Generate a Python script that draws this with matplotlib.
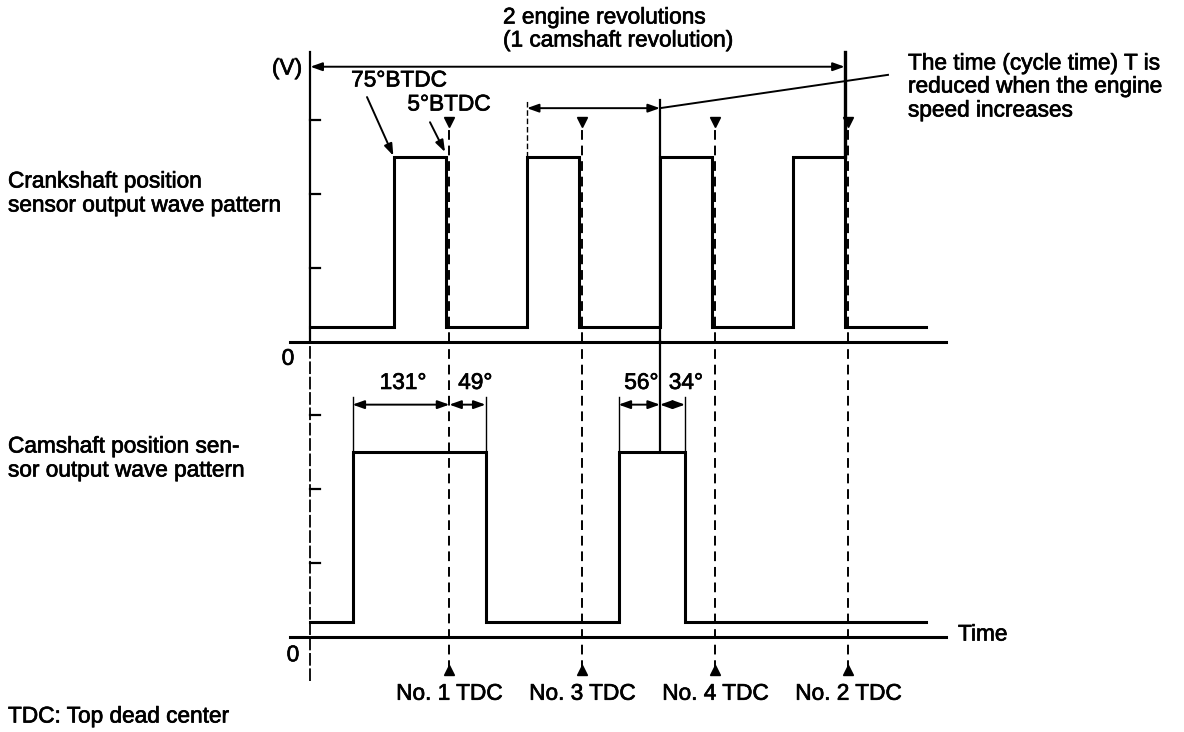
import numpy as np
import matplotlib.pyplot as plt
import matplotlib.patheffects as pe

plt.rcParams['font.family'] = ['Liberation Sans', 'DejaVu Sans']

# crank angle (deg) of each TDC
tdc_names = ['No. 1 TDC', 'No. 3 TDC', 'No. 4 TDC', 'No. 2 TDC']
tdc_deg = [180, 360, 540, 720]
# crankshaft position sensor pulses (rise 75° BTDC, fall 5° BTDC)
crank_rise = [105, 285, 465, 645]
crank_fall = [175, 355, 535, 715]
# camshaft position sensor pulses
cam_rise = [49, 409]
cam_fall = [229, 499]
cam_split = [180, 465]
cam_labels = [('131°', '49°'), ('56°', '34°')]
# signal levels (arbitrary volts)
v_high = 2.5
v_low = 0.2
v_ticks = [1, 2, 3]
# time axis start / end of trace
x_start = -8
x_end = 825

W, H = 1184, 732
plt.rcParams['font.size'] = 16.3
# slightly heavier text, like the scanned original
TXT = dict(path_effects=[pe.withStroke(linewidth=0.5, foreground='k')])


def rect(l, t, r, b):
    return [l / W, 1 - b / H, (r - l) / W, (b - t) / H]


def wave(rises, falls):
    xs, ys = [x_start], [v_low]
    for r, f in zip(rises, falls):
        xs += [r, r, f, f]
        ys += [v_low, v_high, v_high, v_low]
    xs.append(x_end)
    ys.append(v_low)
    return xs, ys


fig = plt.figure(figsize=(W / 100, H / 100), dpi=100)
deg0, px_deg = 316.3, 0.739
xlim = ((290 - deg0) / px_deg, (946 - deg0) / px_deg)

ax1 = fig.add_axes(rect(290, 46, 946, 342))
ax2 = fig.add_axes(rect(290, 341, 946, 637))
for ax in (ax1, ax2):
    ax.set_xlim(*xlim)
    ax.set_ylim(0, 4)
    ax.axis('off')
    ax.axhline(0, color='k', lw=2.2, clip_on=False)
    for t in v_ticks:
        ax.plot([x_start, x_start + 13], [t, t], color='k', lw=1.6)

kw = dict(color='k', clip_on=False)
# vertical axes
ax1.plot([x_start, x_start], [0, 3.92], lw=1.6, **kw)
ax2.plot([x_start, x_start], [-0.6, 4], lw=1.3, ls=(0, (7, 1.5)), **kw)

# waveforms
xs, ys = wave(crank_rise, crank_fall)
ax1.plot(xs, ys, lw=2.2, solid_joinstyle='miter', **kw)
xs, ys = wave(cam_rise, cam_fall)
ax2.plot(xs, ys, lw=2.2, solid_joinstyle='miter', **kw)

# TDC dashed lines, markers and labels
for name, d in zip(tdc_names, tdc_deg):
    ax1.plot([d, d], [0, 2.95], lw=1.4, ls=(0, (5, 3)), **kw)
    ax1.plot(d, 2.97, marker='v', ms=6.5, **kw)
    ax2.plot([d, d], [-0.45, 4], lw=1.4, ls=(0, (5, 3)), **kw)
    ax2.plot(d, -0.45, marker='^', ms=6.5, **kw)
    ax2.text(d, -0.76, name, ha='center', va='center', **TXT)

# 2 engine revolutions arrow
arr = dict(arrowstyle='<|-|>,head_length=0.7,head_width=0.25', color='k',
           lw=1.4, shrinkA=0, shrinkB=0, mutation_scale=10)
ax1.annotate('', xy=(x_start, 3.72), xytext=(crank_fall[-1], 3.72),
             arrowprops=arr, annotation_clip=False)
ax1.plot([crank_fall[-1], crank_fall[-1]], [v_high, 3.92], lw=2.4, **kw)

# cycle time T arrow
ax1.annotate('', xy=(crank_rise[1], 3.16), xytext=(crank_rise[2], 3.16),
             arrowprops=arr, annotation_clip=False)
ax1.plot([crank_rise[1], crank_rise[1]], [v_high, 3.27], lw=1.0,
         ls=(0, (4, 2)), **kw)
ax1.plot([crank_rise[2], crank_rise[2]], [0, 3.27], lw=1.6, **kw)
ax2.plot([crank_rise[2], crank_rise[2]], [v_high, 4], lw=1.6, **kw)
ax1.plot([crank_rise[2], (888 - deg0) / px_deg], [3.16, 3.61], lw=1.4, **kw)

# BTDC callouts
pt = dict(arrowstyle='-|>,head_length=0.7,head_width=0.25', color='k',
          lw=1.4, shrinkA=0, shrinkB=1, mutation_scale=10)
ax1.annotate('', xy=(crank_rise[0], v_high),
             xytext=((367 - deg0) / px_deg, 3.31), arrowprops=pt)
ax1.annotate('', xy=(crank_fall[0], v_high + 0.05),
             xytext=((430 - deg0) / px_deg, 2.97), arrowprops=pt)
ax1.text((399 - deg0) / px_deg, (342 - 80) / 74, '75°BTDC', ha='center',
         va='center', **TXT)
ax1.text((449 - deg0) / px_deg, (342 - 104) / 74, '5°BTDC', ha='center',
         va='center', **TXT)

# camshaft angle dimensions
dim_y = 3.14
for r, s, f, (la, lb) in zip(cam_rise, cam_split, cam_fall, cam_labels):
    for a, b in ((r, s), (s, f)):
        ax2.annotate('', xy=(a, dim_y), xytext=(b, dim_y), arrowprops=arr,
                     annotation_clip=False)
    for e in (r, f):
        ax2.plot([e, e], [v_high, 3.25], lw=1.0, **kw)
    ax2.text((r + s) / 2 + 3, 3.44, la, ha='center', va='center', **TXT)
    ax2.text(s + 12, 3.44, lb, ha='left', va='center', **TXT)

# axis labels
ax1.text((287 - deg0) / px_deg, (342 - 68) / 74, '(V)', ha='center',
         va='center', **TXT)
ax1.text((288 - deg0) / px_deg, -0.22, '0', ha='center', va='center', **TXT)
ax2.text((293 - deg0) / px_deg, -0.24, '0', ha='center', va='center', **TXT)
ax2.text((958 - deg0) / px_deg, 0.04, 'Time', ha='left', va='center', **TXT)


def lines(x, ys, texts):
    for y, t in zip(ys, texts):
        fig.text(x / W, 1 - y / H, t, ha='left', va='center', **TXT)


lines(503, [17, 40], ['2 engine revolutions', '(1 camshaft revolution)'])
lines(908, [63, 86, 110], ['The time (cycle time) T is',
                           'reduced when the engine', 'speed increases'])
lines(8, [181, 205], ['Crankshaft position', 'sensor output wave pattern'])
lines(8, [446, 470], ['Camshaft position sen-', 'sor output wave pattern'])
lines(8, [716], ['TDC: Top dead center'])

fig.savefig('out.png', dpi=100, facecolor='white')
